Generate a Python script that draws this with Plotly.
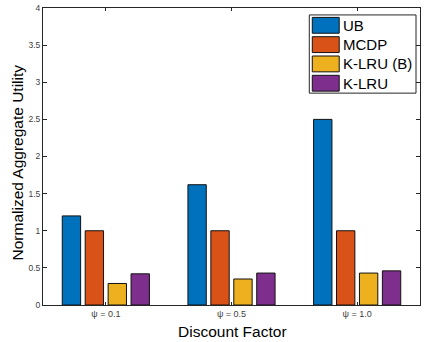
import plotly.graph_objects as go

categories = ["ψ = 0.1", "ψ = 0.5", "ψ = 1.0"]
series_names = ["UB", "MCDP", "K-LRU (B)", "K-LRU"]
ub = [1.20, 1.62, 2.50]
mcdp = [1.00, 1.00, 1.00]
klru_b = [0.29, 0.35, 0.43]
klru = [0.42, 0.43, 0.46]
series_values = [ub, mcdp, klru_b, klru]
colors = ["#0072BD", "#D95319", "#EDB120", "#7E2F8E"]
y_ticks = [0, 0.5, 1, 1.5, 2, 2.5, 3, 3.5, 4]

W, H = 424, 342
ML, MR, MT, MB = 43, 3, 5, 37
PW, PH = W - ML - MR, H - MT - MB

def px(x):
    return (x - ML) / PW

def py(y):
    return (H - MB - y) / PH

fig = go.Figure()
xpos = list(range(1, len(categories) + 1))
for name, vals, col in zip(series_names, series_values, colors):
    fig.add_trace(go.Bar(
        x=xpos, y=vals, name=name,
        marker=dict(color=col, line=dict(color="#111111", width=1)),
        showlegend=False,
    ))

axis_col = "#262626"
tick_col = "#404040"
font_fam = "Liberation Sans, Arial, sans-serif"

fig.update_layout(
    width=W, height=H,
    margin=dict(l=ML, r=MR, t=MT, b=MB),
    paper_bgcolor="white", plot_bgcolor="white",
    barmode="group", bargap=0.27, bargroupgap=0.2,
    font=dict(family=font_fam, color=axis_col),
    xaxis=dict(
        range=[0.5, 3.5], tickvals=xpos, ticktext=categories,
        ticks="inside", ticklen=3, tickcolor=axis_col,
        showline=True, linecolor=axis_col, linewidth=1, mirror="allticks",
        showgrid=False, zeroline=False,
        tickfont=dict(size=9, color=tick_col, family=font_fam),
    ),
    yaxis=dict(
        range=[0, 4], tickvals=y_ticks,
        ticktext=[("%g" % v) for v in y_ticks],
        ticks="inside", ticklen=4, tickcolor=axis_col,
        showline=True, linecolor=axis_col, linewidth=1, mirror="allticks",
        showgrid=False, zeroline=False, ticklabeloverflow="allow",
        tickfont=dict(size=8.5, color=tick_col, family=font_fam),
    ),
)

# axis titles
fig.add_annotation(text="Discount Factor", xref="paper", yref="paper",
                   x=px(233), y=py(332), xanchor="center", yanchor="middle",
                   showarrow=False, font=dict(size=15.5, color="#000000"))
fig.add_annotation(text="Normalized Aggregate Utility", xref="paper", yref="paper",
                   x=px(17), y=py(161), xanchor="center", yanchor="middle",
                   textangle=-90, showarrow=False,
                   font=dict(size=15.5, color="#000000"))

# legend box
lx0, lx1, ly0, ly1 = 310, 417, 12, 91
fig.add_shape(type="rect", xref="paper", yref="paper",
              x0=px(lx0), x1=px(lx1), y0=py(ly1), y1=py(ly0),
              line=dict(color=axis_col, width=1), fillcolor="white", layer="above")
row_h = 19.5
for i, (name, col) in enumerate(zip(series_names, colors)):
    cy = 22.5 + i * row_h
    fig.add_shape(type="rect", xref="paper", yref="paper",
                  x0=px(313), x1=px(340), y0=py(cy + 8), y1=py(cy - 8),
                  line=dict(color="#111111", width=1), fillcolor=col, layer="above")
    fig.add_annotation(text=name, xref="paper", yref="paper",
                       x=px(342), y=py(cy), xanchor="left", yanchor="middle",
                       showarrow=False, font=dict(size=15, color="#000000"))

fig.write_html("out.html")
